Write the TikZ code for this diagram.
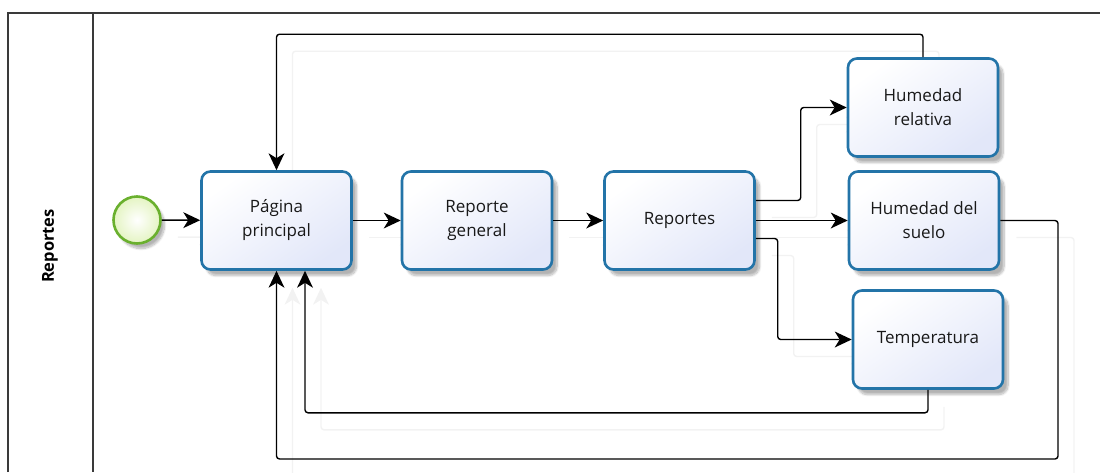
\documentclass[tikz,border=0pt]{standalone}
\usepackage{fontspec}
\setmainfont{Open Sans}
\usetikzlibrary{arrows.meta,shadows.blur,backgrounds}

\definecolor{taskline}{HTML}{2374A8}
\definecolor{taskfill}{HTML}{E2E7F9}
\definecolor{startline}{HTML}{6AB02E}
\definecolor{startfill}{HTML}{E4F4C2}
\definecolor{frameline}{HTML}{3A3A3A}

\tikzset{
  task/.style={rectangle, rounded corners=9pt, draw=taskline, line width=2.6pt,
    top color=white, bottom color=taskfill, shading angle=35,
    minimum width=150pt, minimum height=98pt, align=center,
    font=\fontsize{17}{24}\selectfont, text=black!90,
    blur shadow={shadow xshift=5pt, shadow yshift=-6pt, shadow opacity=30, shadow blur steps=10}},
  startev/.style={circle, draw=startline, line width=2.6pt, minimum size=47pt,
    inner color=white, outer color=startfill,
    blur shadow={shadow xshift=4pt, shadow yshift=-5pt, shadow opacity=30, shadow blur steps=10}},
  tip/.tip={Stealth[length=17pt,width=16pt,inset=5pt,line width=0pt]},
  flow/.style={line width=1.4pt, rounded corners=3pt, -tip}
}

% all the sequence flows, drawn once faint and once for real
\newcommand{\drawflows}[1]{
  \draw [flow,#1] (start) -- (pag);
  \draw [flow,#1] (pag) -- (gen);
  \draw [flow,#1] (gen) -- (rep);
  \draw [flow,#1] ([yshift=20pt]rep.east) -| ([xshift=-46pt]hrel.west) -- (hrel.west);
  \draw [flow,#1] (rep.east) -- (hsue.west);
  \draw [flow,#1] ([yshift=-18pt]rep.east) -| ([xshift=-74pt]temp.west) -- (temp.west);
  \draw [flow,#1] (hrel.north) -- ++(0,-23) -| (pag.north);
  \draw [flow,#1] (hsue.east) -| (1058,459) -| (pag.south);
  \draw [flow,#1] (temp.south) -- ++(0,23) -| ([xshift=28.5pt]pag.south);
}

\begin{document}
\begin{tikzpicture}[x=1pt,y=-1pt]
  \useasboundingbox (0,0) rectangle (1100,472);

  % pool and lane
  \draw [frameline, line width=1.5pt] (8,472) -- (8,13) -- (1100,13);
  \draw [frameline, line width=1.5pt] (93,13) -- (93,472);
  \node [rotate=90, font=\bfseries\fontsize{16.5}{20}\selectfont] (lane) at (50,246) {Reportes};

  \node [startev] (start) at (137,220) {};
  \node [task] (pag)  at (276.5,220.5) {Página\\principal};
  \node [task] (gen)  at (477,220.5)   {Reporte\\general};
  \node [task] (rep)  at (679.5,220.5) {Reportes};
  \node [task] (hrel) at (923,107.5)   {Humedad\\relativa};
  \node [task] (hsue) at (924,220.5)   {Humedad del\\suelo};
  \node [task] (temp) at (928,339.5)   {Temperatura};

  \begin{pgfonlayer}{background}
    \begin{scope}[transform canvas={shift={(16,17)}}]
      \drawflows{black!5}
    \end{scope}
  \end{pgfonlayer}

  \drawflows{black}
\end{tikzpicture}
\end{document}
